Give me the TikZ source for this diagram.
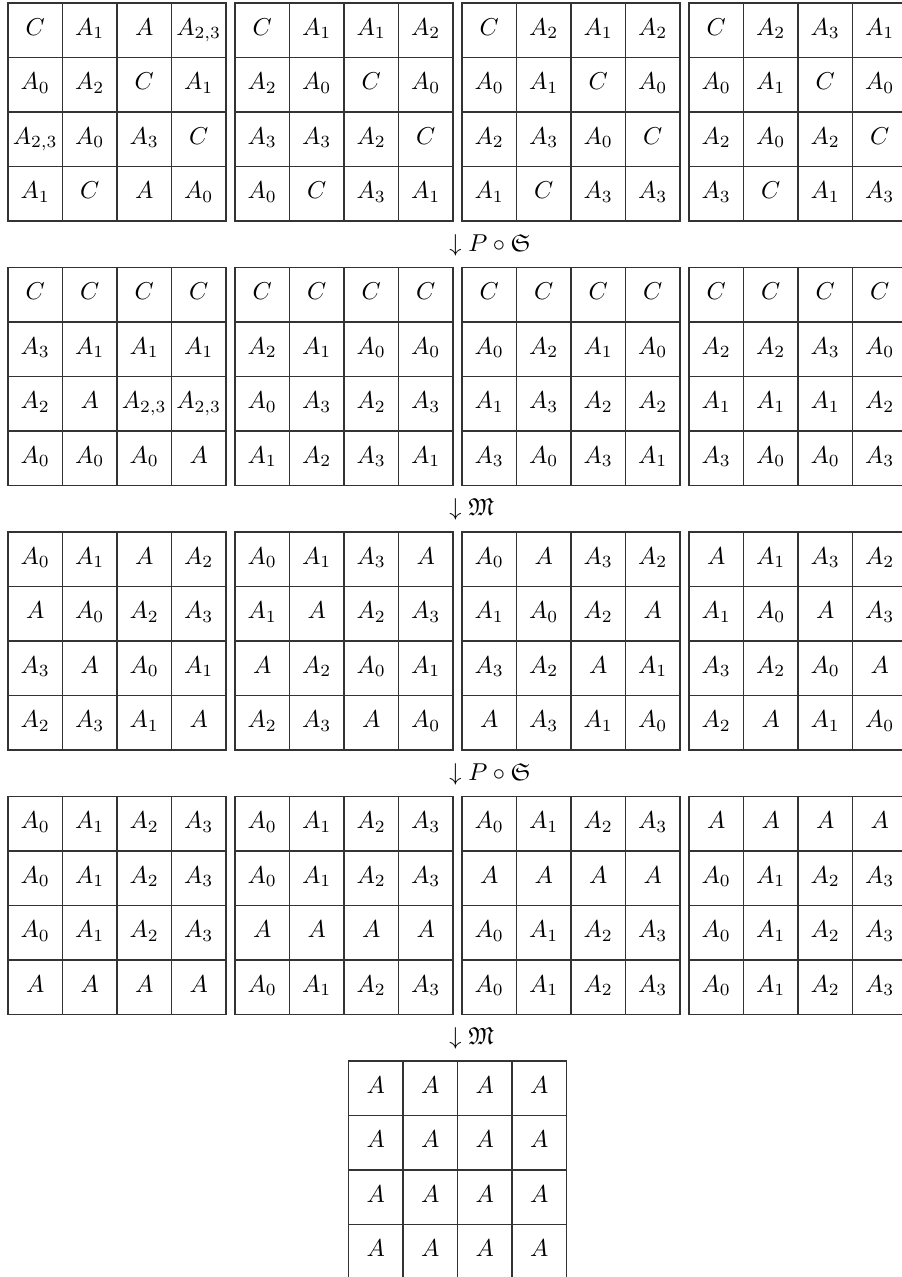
\documentclass[tikz,border=0pt]{standalone}
\usepackage{amssymb}
\newcommand\drawblock[4]{%
  \draw[gridline] (#2,#3) rectangle ({#2+218},{#3+218});
  \foreach \k in {1,2,3}{
    \draw[gridline] ({#2+54.5*\k},#3) -- ({#2+54.5*\k},{#3+218});
    \draw[gridline] (#2,{#3+54.5*\k}) -- ({#2+218},{#3+54.5*\k});
  }
  \foreach \e [count=\n from 0] in {#4}{
    \pgfmathtruncatemacro\rr{div(\n,4)}
    \pgfmathtruncatemacro\cc{mod(\n,4)}
    \node[cell] (#1-\rr-\cc) at ({#2+54.5*\cc+27.25},{#3+54.5*\rr+32}) {$\e$};
  }
}
\begin{document}
\begin{tikzpicture}[x=0.41pt,y=-0.41pt,
  gridline/.style={draw=black!80,line width=0.45pt},
  cell/.style={anchor=base,inner sep=0pt},
  steplabel/.style={anchor=base west,inner sep=0pt}]
\path[use as bounding box] (0,0) rectangle (902,1277);
\clip (0,0) rectangle (902,1277);
% row 1
\drawblock{a1}{8}{3}{C,A_1,A,{A_{2,3}}, A_0,A_2,C,A_1, {A_{2,3}},A_0,A_3,C, A_1,C,A,A_0}
\drawblock{a2}{235}{3}{C,A_1,A_1,A_2, A_2,A_0,C,A_0, A_3,A_3,A_2,C, A_0,C,A_3,A_1}
\drawblock{a3}{462}{3}{C,A_2,A_1,A_2, A_0,A_1,C,A_0, A_2,A_3,A_0,C, A_1,C,A_3,A_3}
\drawblock{a4}{689}{3}{C,A_2,A_3,A_1, A_0,A_1,C,A_0, A_2,A_0,A_2,C, A_3,C,A_1,A_3}
\node[steplabel] (l1) at (449,251) {$\downarrow P\circ\mathfrak{S}$};
% row 2
\drawblock{b1}{8}{267.5}{C,C,C,C, A_3,A_1,A_1,A_1, A_2,A,{A_{2,3}},{A_{2,3}}, A_0,A_0,A_0,A}
\drawblock{b2}{235}{267.5}{C,C,C,C, A_2,A_1,A_0,A_0, A_0,A_3,A_2,A_3, A_1,A_2,A_3,A_1}
\drawblock{b3}{462}{267.5}{C,C,C,C, A_0,A_2,A_1,A_0, A_1,A_3,A_2,A_2, A_3,A_0,A_3,A_1}
\drawblock{b4}{689}{267.5}{C,C,C,C, A_2,A_2,A_3,A_0, A_1,A_1,A_1,A_2, A_3,A_0,A_0,A_3}
\node[steplabel] (l2) at (449,515.5) {$\downarrow \mathfrak{M}$};
% row 3
\drawblock{c1}{8}{532}{A_0,A_1,A,A_2, A,A_0,A_2,A_3, A_3,A,A_0,A_1, A_2,A_3,A_1,A}
\drawblock{c2}{235}{532}{A_0,A_1,A_3,A, A_1,A,A_2,A_3, A,A_2,A_0,A_1, A_2,A_3,A,A_0}
\drawblock{c3}{462}{532}{A_0,A,A_3,A_2, A_1,A_0,A_2,A, A_3,A_2,A,A_1, A,A_3,A_1,A_0}
\drawblock{c4}{689}{532}{A,A_1,A_3,A_2, A_1,A_0,A,A_3, A_3,A_2,A_0,A, A_2,A,A_1,A_0}
\node[steplabel] (l3) at (449,780) {$\downarrow P\circ\mathfrak{S}$};
% row 4
\drawblock{d1}{8}{796.5}{A_0,A_1,A_2,A_3, A_0,A_1,A_2,A_3, A_0,A_1,A_2,A_3, A,A,A,A}
\drawblock{d2}{235}{796.5}{A_0,A_1,A_2,A_3, A_0,A_1,A_2,A_3, A,A,A,A, A_0,A_1,A_2,A_3}
\drawblock{d3}{462}{796.5}{A_0,A_1,A_2,A_3, A,A,A,A, A_0,A_1,A_2,A_3, A_0,A_1,A_2,A_3}
\drawblock{d4}{689}{796.5}{A,A,A,A, A_0,A_1,A_2,A_3, A_0,A_1,A_2,A_3, A_0,A_1,A_2,A_3}
\node[steplabel] (l4) at (449,1044.5) {$\downarrow \mathfrak{M}$};
% final
\drawblock{e1}{348.5}{1061}{A,A,A,A, A,A,A,A, A,A,A,A, A,A,A,A}
\end{tikzpicture}
\end{document}
